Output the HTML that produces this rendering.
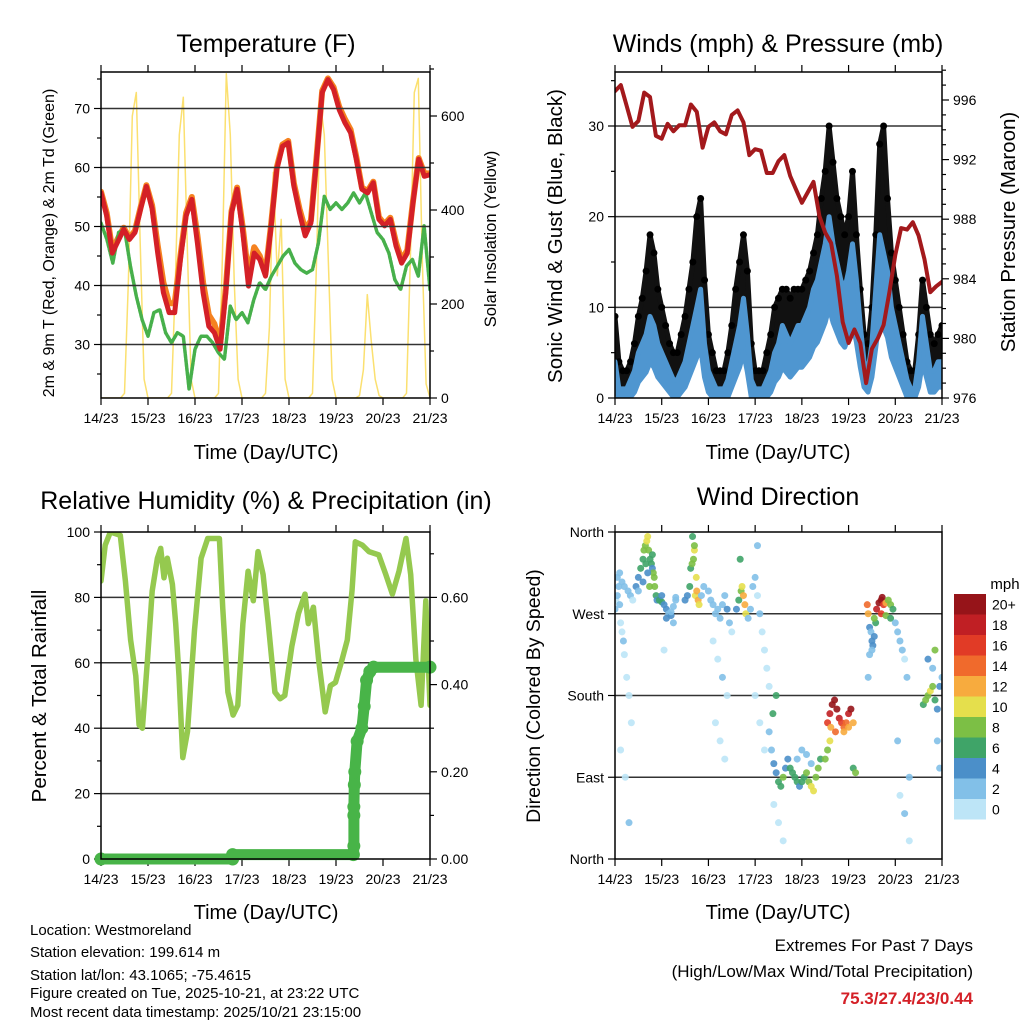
<!DOCTYPE html>
<html><head><meta charset="utf-8">
<style>
html,body{margin:0;padding:0;background:#fff;}
svg{display:block;font-family:"Liberation Sans",Arial,sans-serif;}
</style></head>
<body>
<svg id="chart" width="1024" height="1024" viewBox="0 0 1024 1024" xmlns="http://www.w3.org/2000/svg">
<rect x="0" y="0" width="1024" height="1024" fill="#fff"/>
<text x="266" y="52" font-size="25" text-anchor="middle">Temperature (F)</text>
<text x="778" y="52" font-size="25" text-anchor="middle">Winds (mph) &amp; Pressure (mb)</text>
<text x="266" y="509" font-size="25" text-anchor="middle">Relative Humidity (%) &amp; Precipitation (in)</text>
<text x="778" y="505" font-size="25" text-anchor="middle">Wind Direction</text>
<text x="266" y="459" font-size="20" text-anchor="middle">Time (Day/UTC)</text>
<text x="778" y="459" font-size="20" text-anchor="middle">Time (Day/UTC)</text>
<text x="266" y="919" font-size="20" text-anchor="middle">Time (Day/UTC)</text>
<text x="778" y="919" font-size="20" text-anchor="middle">Time (Day/UTC)</text>
<text transform="translate(54,243) rotate(-90)" font-size="16" text-anchor="middle">2m &amp; 9m T (Red, Orange) &amp; 2m Td (Green)</text>
<text transform="translate(496,239) rotate(-90)" font-size="16.5" text-anchor="middle">Solar Insolation (Yellow)</text>
<text transform="translate(562,236) rotate(-90)" font-size="20.5" text-anchor="middle">Sonic Wind &amp; Gust (Blue, Black)</text>
<text transform="translate(1015,232) rotate(-90)" font-size="20.5" text-anchor="middle">Station Pressure (Maroon)</text>
<text transform="translate(46,696) rotate(-90)" font-size="20.5" text-anchor="middle">Percent &amp; Total Rainfall</text>
<text transform="translate(540,696) rotate(-90)" font-size="19.5" text-anchor="middle">Direction (Colored By Speed)</text>
<g font-size="15">
<text x="30" y="935">Location: Westmoreland</text>
<text x="30" y="957">Station elevation: 199.614 m</text>
<text x="30" y="980">Station lat/lon: 43.1065; -75.4615</text>
<text x="30" y="998">Figure created on Tue, 2025-10-21, at 23:22 UTC</text>
<text x="30" y="1017">Most recent data timestamp: 2025/10/21 23:15:00</text>
</g>
<text x="973" y="951" font-size="17" text-anchor="end">Extremes For Past 7 Days</text>
<text x="973" y="977" font-size="17" text-anchor="end">(High/Low/Max Wind/Total Precipitation)</text>
<text x="973" y="1004" font-size="17" font-weight="bold" fill="#d42027" text-anchor="end">75.3/27.4/23/0.44</text>
<text x="1005" y="589" font-size="15" text-anchor="middle">mph</text>
</svg>
<script>
const dayLabels = ["14/23","15/23","16/23","17/23","18/23","19/23","20/23","21/23"];
const tempRed = [55.7,51.8,45.5,47.5,49.5,47.8,49,53,56.8,53,45.5,38.8,35.4,35.4,44.4,51.8,54.6,47.2,38.8,33.1,32,29.2,38.8,52.3,56.3,49,39.9,45.5,44.4,41.6,50.1,59.7,63.6,64.2,56.8,52.3,48.4,50.6,61.4,72.7,74.9,73.2,69.8,67.6,65.9,61.4,56.3,55.7,57.4,51.2,50.1,51.2,46.7,43.8,45.5,54,61.4,58.5,58.8];
const tempOrange = [55.9,52.3,46,48,49.8,48,49.3,53.3,57,53.6,46.8,40.5,37,37,45,52.3,55,48.5,40.5,35,33.5,30,39.5,52.6,56.6,49.8,41.5,46.5,45,42,50.5,60,63.9,64.5,57.3,53,49.5,51,61.8,73,75.1,73.6,70.3,68.2,66.4,61.8,56.6,56,57.6,51.6,50.4,51.5,47.3,44.3,46,54.3,61.6,59,59];
const dewGreen = [50.6,47.8,43.8,49,49.5,43.3,38.2,34.2,31.4,35.4,35.9,32,30.3,32,31.4,22.4,29.2,31.4,31.4,30.3,28.6,27.5,36.5,34.2,35.4,33.7,37.6,40.5,39.3,41.6,43.3,45,46.1,43.8,42.7,42.1,42.7,47.2,55.1,52.9,54,52.9,54,55.7,54,55.7,52.3,49,47.8,45.5,41,39.3,43.3,44.4,41.6,50.1,39.3];
const solar = [0,0,0,0,0,0,10,250,600,650,330,40, 0,0,0,0,0,0,10,250,560,640,330,40, 0,0,0,0,0,0,10,300,690,560,250,40, 0,0,0,0,0,0,10,150,480,260,380,40, 0,0,0,0,0,0,10,280,630,560,300,40, 0,0,0,0,0,0,5,60,220,120,40,5, 0,0,0,0,0,0,10,300,650,680,300,30, 0];
const windSpeed = [4,1,1,1,2,3,5,6,7,9,8,6, 5,4,3,2,2,3,4,6,8,10,12,6, 3,2,1,1,1,2,4,6,8,11,7,2, 1,1,1,2,3,5,6,8,7,6,7,8, 8,9,10,12,13,15,17,20,17,15,13,12, 14,17,13,8,4,3,6,12,18,16,14,10, 8,6,4,2,1,1,4,9,6,3,3,4, 4];
const windGust = [9,4,3,3,4,6,9,11,14,18,16,12, 10,8,6,5,5,7,9,12,15,20,22,13, 7,5,3,3,3,5,8,12,15,18,14,6, 3,3,3,5,7,10,11,12,12,11,12,12, 12,13,14,16,18,22,25,30,26,22,20,18, 20,25,18,12,7,6,10,18,28,30,22,16, 13,10,7,4,3,3,7,13,10,7,6,7, 8];
const pressure = [996.6,997,995.6,994.2,994.6,996.5,996.2,993.6,993.4,994.4,993.9,994.3,994.3,995.7,995.2,992.8,994.2,994.5,993.9,993.7,995,995.3,994.5,992.3,992.7,992.6,991.1,991.1,991.9,992.3,990.9,990,989.1,989.8,990.5,988.2,987.1,986.4,984.2,981.1,979.7,980.6,979.7,977,979.3,980,980.9,983.1,985.6,987.4,987.3,987.8,986.9,985.3,983.1,983.5,983.8];
const rhDays = [0,.09,.2,.41,.52,.63,.74,.81,.88,.99,1.09,1.2,1.27,1.34,1.41,1.52,1.59,1.66,1.74,1.84,1.99,2.13,2.27,2.52,2.59,2.7,2.81,2.91,3.02,3.13,3.24,3.34,3.45,3.56,3.7,3.81,3.91,4.06,4.2,4.34,4.41,4.52,4.63,4.77,4.88,4.99,5.13,5.24,5.34,5.41,5.56,5.7,5.91,6.06,6.2,6.34,6.49,6.59,6.7,6.81,6.91,7.0];
const rhValues = [85,96,100,99,85,67,56,41,40,61,82,92,95,86,92,84,72,56,31,39,70,92,98,98,77,51,44,47,72,88,79,94,87,72,51,49,50,65,75,81,72,77,61,45,53,54,61,67,82,97,96,94,93,87,81,88,98,87,61,47,79,47];
const precipDays = [0,2.8,2.8,5.37,5.38,5.38,5.38,5.39,5.4,5.45,5.55,5.6,5.65,5.72,5.8,7];
const precipValues = [0,0,0.01,0.01,0.03,0.1,0.12,0.17,0.2,0.27,0.3,0.35,0.41,0.43,0.44,0.44];
const dirDays = [0,0.02,0.05,0.08,0.1,0.12,0.15,0.18,0.2,0.25,0.3,0.35,0.05,0.1,0.15,0.2,0.28,0.33,0.38,0.12,0.22,0.3,
0.45,0.5,0.55,0.6,0.62,0.65,0.68,0.7,0.72,0.75,0.78,0.8,0.82,0.85,0.88,0.9,0.5,0.6,0.7,0.8,0.66,0.74,0.84,
0.95,1.0,1.05,1.1,1.15,1.2,1.25,1.3,1.0,1.1,1.2,1.3,1.05,1.25,
1.5,1.55,1.6,1.62,1.65,1.68,1.7,1.72,1.75,1.78,1.8,1.85,1.9,1.66,1.7,1.74,
2.0,2.05,2.1,2.15,2.2,2.25,2.3,2.35,2.4,2.45,2.5,2.1,2.2,2.3,2.4,2.15,2.25,2.35,
2.6,2.65,2.7,2.72,2.75,2.78,2.8,2.85,2.9,2.68,
2.95,3.0,3.05,3.1,3.15,3.2,3.25,3.3,3.0,3.1,3.2,3.05,
3.3,3.35,3.4,3.45,3.5,3.55,3.6,3.65,3.7,3.4,3.5,3.6,3.38,3.45,
3.75,3.8,3.85,3.9,3.95,4.0,4.05,4.1,4.15,4.2,4.25,4.3,4.35,4.4,3.9,4.0,4.1,4.2,
4.55,4.6,4.65,4.7,4.75,4.8,4.85,4.9,4.95,5.0,5.05,5.1,4.62,4.72,4.9,5.0,4.5,4.55,4.6,5.1,5.15,
5.4,5.42,5.45,5.48,5.5,5.52,5.55,5.58,5.45,5.5,5.55,5.42,
5.6,5.65,5.7,5.72,5.75,5.8,5.85,5.9,5.95,5.7,5.8,5.9,
6.0,6.05,6.1,6.15,6.2,6.25,6.3,6.1,6.2,6.3,6.05,
6.6,6.65,6.7,6.75,6.8,6.85,6.9,6.95,7.0,6.7,6.8,6.9,6.95,6.85];
const dirDegrees = [275,285,290,300,280,260,250,240,225,200,180,150,310,315,305,300,295,290,285,120,90,40,
300,310,320,330,340,345,350,355,340,330,325,320,315,300,290,285,295,305,315,335,325,300,310,
285,283,280,275,270,268,278,285,290,265,272,288,230,260,
285,290,300,320,325,330,340,290,295,285,280,290,300,355,345,310,
295,285,280,270,275,265,280,290,275,260,250,240,220,200,180,150,130,110,
275,285,295,300,290,280,270,265,275,330,
300,310,290,270,250,230,210,190,180,150,120,345,
140,120,105,95,85,80,90,100,110,60,40,20,160,180,
100,95,90,85,80,85,90,95,85,80,75,90,100,110,110,120,115,105,
150,160,170,175,165,155,150,145,150,160,165,150,145,140,140,145,110,120,130,100,95,
280,270,255,250,240,235,245,260,225,230,265,200,
275,282,285,288,280,282,285,280,275,270,268,265,
260,250,240,230,220,200,90,70,50,20,130,
170,175,180,185,190,175,165,190,200,220,210,130,100,230];
const dirSpeeds = [2,1,2,3,2,1,1,2,1,1,1,1,2,3,2,2,3,2,1,1,1,2,
4,5,6,7,8,9,10,10,8,7,6,5,8,9,6,4,3,4,5,6,7,8,9,
6,7,5,4,3,4,3,2,5,4,3,2,1,2,
4,5,6,7,8,9,10,11,12,12,11,3,2,7,8,10,
2,3,2,3,2,2,3,2,4,2,1,1,1,2,1,1,1,1,
5,6,8,10,12,12,11,3,2,6,
2,2,1,2,1,1,1,1,1,1,1,2,
2,3,4,5,6,7,8,5,4,1,1,1,7,7,
6,7,7,6,5,6,7,8,9,10,10,9,8,7,3,2,2,3,
16,18,20,22,21,19,16,14,15,18,20,12,12,14,13,12,8,9,10,7,8,
14,12,4,3,4,5,4,6,3,2,8,2,
18,20,22,20,16,12,9,8,7,17,8,6,
3,2,3,2,1,2,2,1,2,1,2,
7,8,9,10,8,6,5,4,3,5,3,2,2,8];
const speedColors = ["#bde5f7","#82c0e8","#4b8fc9","#3fa468","#7cbf45","#e5df4c","#f7ab3e","#f06a2c","#e13b26","#c01f24","#961419"];
const speedLabels = ["0","2","4","6","8","10","12","14","16","18","20+"];

const NS = "http://www.w3.org/2000/svg";
const svg = document.getElementById("chart");
function mk(tag, attrs, name, parent) {
  const el = document.createElementNS(NS, tag);
  for (const k in attrs) el.setAttribute(k, attrs[k]);
  
  
  (parent || svg).appendChild(el);
  return el;
}
function lin(d0, d1, r0, r1) { return v => r0 + (v - d0) * (r1 - r0) / (d1 - d0); }

const P1 = {x0:101,x1:430,y0:72,y1:398}, P2 = {x0:615,x1:942,y0:72,y1:398};
const P3 = {x0:101,x1:430,y0:532,y1:859}, P4 = {x0:615,x1:942,y0:532,y1:859};

const tY = lin(30,70,344.5,108.5), sY = lin(0,600,398,116);
const wY = lin(0,30,398,126), pY = lin(976,996,398,100);
const rY = lin(0,100,859,532), qY = lin(0,0.6,859,597.4);
const dY = lin(0,360,859,532);

function frame(P, pre) {
  const g = mk('g', {}, pre + '-axes');
  const xs = lin(0,7,P.x0,P.x1);
  for (let i = 0; i < 8; i++) {
    const x = xs(i);
    mk('line', {x1:x,x2:x,y1:P.y1,y2:P.y1+7,stroke:'#000','stroke-width':1.2}, pre + '-x-tick', g);
    mk('line', {x1:x,x2:x,y1:P.y0,y2:P.y0-7,stroke:'#000','stroke-width':1.2}, pre + '-x-tick-top', g);
    const t = mk('text', {x:x,y:P.y1+25,'font-size':14,'text-anchor':'middle'}, pre + '-x-tick-label', g);
    t.textContent = dayLabels[i];
  }
  return g;
}
function hgrid(P, yv, pre) {
  mk('line', {x1:P.x0,x2:P.x1,y1:yv,y2:yv,stroke:'#333','stroke-width':1.5}, pre, svg);
}
function yTick(P, side, y, label, pre, major) {
  const x = side === 'l' ? P.x0 : P.x1;
  const len = major ? 7 : 4;
  mk('line', {x1:x,x2:side==='l'?x-len:x+len,y1:y,y2:y,stroke:'#000','stroke-width':1.2}, pre + '-tick', svg);
  if (label !== null) {
    const t = mk('text', {x: side==='l'? x-11 : x+11, y:y+5,'font-size':14,'text-anchor': side==='l'?'end':'start'}, pre + '-tick-label', svg);
    t.textContent = label;
  }
}
function poly(pts, attrs, name) {
  return mk('polyline', Object.assign({points: pts.map(p => p[0].toFixed(1)+','+p[1].toFixed(1)).join(' '), fill:'none','stroke-linejoin':'round','stroke-linecap':'round'}, attrs), name);
}
function clip(P, id) {
  const defs = mk('clipPath', {id:id}, id + '-clip');
  mk('rect', {x:P.x0,y:P.y0,width:P.x1-P.x0,height:P.y1-P.y0}, id + '-clip-rect', defs);
}

/* ---------- Panel 1: temperature ---------- */
clip(P1,'c1'); clip(P2,'c2'); clip(P3,'c3'); clip(P4,'c4');
frame(P1,'temp');
for (let v = 25; v <= 75; v += 5) yTick(P1,'l',tY(v), v%10===0? String(v): null,'temp-y', v%10===0);
for (let v = 0; v <= 700; v += 100) yTick(P1,'r',sY(v), v%200===0? String(v): null,'solar-y', v%200===0);
(function(){
  const xs = lin(0,7,P1.x0,P1.x1);
  const sol = poly(solar.map((v,i)=>[xs(i*7/(solar.length-1)), sY(v)]), {stroke:'#fbe070','stroke-width':1.5}, 'solar-line');
  sol.setAttribute('clip-path','url(#c1)');
  const n1 = tempOrange.length;
  const o = poly(tempOrange.map((v,i)=>[xs(i*7/(n1-1)), tY(v)]), {stroke:'#f58220','stroke-width':6}, 'temp-9m-line');
  o.setAttribute('clip-path','url(#c1)');
  const g = dewGreen.length;
  const gl = poly(dewGreen.map((v,i)=>[xs(i*7/(g-1)), tY(v)]), {stroke:'#47b04b','stroke-width':3.5,'stroke-dasharray':'3 1.5'}, 'dewpoint-line');
  gl.setAttribute('clip-path','url(#c1)');
  const n = tempRed.length;
  const r = poly(tempRed.map((v,i)=>[xs(i*7/(n-1)), tY(v)]), {stroke:'#d42027','stroke-width':5}, 'temp-2m-line');
  r.setAttribute('clip-path','url(#c1)');
})();
[30,40,50,60,70].forEach(v => hgrid(P1, tY(v), 'temp-gridline'));
mk('rect',{x:P1.x0,y:P1.y0,width:P1.x1-P1.x0,height:P1.y1-P1.y0,fill:'none',stroke:'#000','stroke-width':1.5},'temp-plot-frame');

/* ---------- Panel 2: winds ---------- */
frame(P2,'wind');
for (let v = 0; v <= 35; v += 5) yTick(P2,'l',wY(v), v%10===0? String(v): null,'wind-y', v%10===0);
for (let v = 976; v <= 998; v += 1) yTick(P2,'r',pY(v), v%4===0? String(v): null,'pressure-y', v%4===0);
[10,20,30].forEach(v => hgrid(P2, wY(v), 'wind-gridline'));
(function(){
  const xs = lin(0,7,P2.x0,P2.x1);
  const n = windGust.length;
  const top = windGust.map((v,i)=>[xs(i*7/(n-1)), wY(v)]);
  const bot = windSpeed.map((v,i)=>[xs(i*7/(n-1)), wY(v)]).reverse();
  const band = mk('polygon',{points: top.concat(bot).map(p=>p[0].toFixed(1)+','+p[1].toFixed(1)).join(' '), fill:'#111', stroke:'#111','stroke-width':5,'stroke-linejoin':'round'},'gust-band');
  band.setAttribute('clip-path','url(#c2)');
  top.forEach((p,i) => {
    const c = mk('circle',{cx:p[0],cy:p[1],r:3.5,fill:'#000'},'gust-point');
    c.setAttribute('clip-path','url(#c2)');
  });
  const m = windSpeed.length;
  const wtop = windSpeed.map((v,i)=>[xs(i*7/(m-1)), wY(v)]);
  const wbot = windSpeed.map((v,i)=>[xs(i*7/(m-1)), wY(Math.max(0, v*0.55 - 1))]).reverse();
  const wb = mk('polygon',{points: wtop.concat(wbot).map(p=>p[0].toFixed(1)+','+p[1].toFixed(1)).join(' '), fill:'#4f96d0', stroke:'#4f96d0','stroke-width':5,'stroke-linejoin':'round'},'wind-speed-band');
  wb.setAttribute('clip-path','url(#c2)');
  const k = pressure.length;
  const pl = poly(pressure.map((v,i)=>[xs(i*7/(k-1)), pY(v)]), {stroke:'#a3191c','stroke-width':4}, 'pressure-line');
  pl.setAttribute('clip-path','url(#c2)');
})();
mk('rect',{x:P2.x0,y:P2.y0,width:P2.x1-P2.x0,height:P2.y1-P2.y0,fill:'none',stroke:'#000','stroke-width':1.5},'wind-plot-frame');

/* ---------- Panel 3: RH & precip ---------- */
frame(P3,'rh');
for (let v = 0; v <= 100; v += 10) yTick(P3,'l',rY(v), v%20===0? String(v): null,'rh-y', v%20===0);
for (let v = 0; v <= 0.75; v += 0.1) yTick(P3,'r',qY(v), Math.round(v*10)%2===0? v.toFixed(2): null,'precip-y', Math.round(v*10)%2===0);
[20,40,60,80].forEach(v => hgrid(P3, rY(v), 'rh-gridline'));
(function(){
  const xs = lin(0,7,P3.x0,P3.x1);
  const rl = poly(rhDays.map((d,i)=>[xs(d), rY(rhValues[i])]), {stroke:'#95c94f','stroke-width':5.5}, 'rh-line');
  rl.setAttribute('clip-path','url(#c3)');
  poly(precipDays.map((d,i)=>[xs(d), qY(precipValues[i])]), {stroke:'#48b448','stroke-width':11}, 'precip-line');
  precipDays.forEach((d,i) => {
    mk('circle',{cx:xs(d),cy:qY(precipValues[i]),r:6.5,fill:'#48b448'},'precip-point');
  });
})();
mk('rect',{x:P3.x0,y:P3.y0,width:P3.x1-P3.x0,height:P3.y1-P3.y0,fill:'none',stroke:'#000','stroke-width':1.5},'rh-plot-frame');

/* ---------- Panel 4: wind direction ---------- */
frame(P4,'dir');
const dirNames = ["North","East","South","West","North"];
[0,90,180,270,360].forEach((v,i) => yTick(P4,'l',dY(v), dirNames[i], 'dir-y', true));
[90,180,270].forEach(v => hgrid(P4, dY(v), 'dir-gridline'));
(function(){
  const xs = lin(0,7,P4.x0,P4.x1);
  dirDays.forEach((d,i) => {
    const idx = Math.min(10, Math.floor(dirSpeeds[i]/2));
    const c = mk('circle',{cx:xs(d),cy:dY(dirDegrees[i]),r:3.5,fill:speedColors[idx],opacity:0.9},'direction-point');
    c.setAttribute('clip-path','url(#c4)');
  });
})();
mk('rect',{x:P4.x0,y:P4.y0,width:P4.x1-P4.x0,height:P4.y1-P4.y0,fill:'none',stroke:'#000','stroke-width':1.5},'dir-plot-frame');

/* colorbar */
speedColors.forEach((c,i) => {
  const y = 799 - i*20.5;
  mk('rect',{x:954,y:y,width:32,height:20.5,fill:c},'colorbar-box');
  const t = mk('text',{x:992,y:y+15.5,'font-size':14},'colorbar-label');
  t.textContent = speedLabels[i];
});
</script>
</body></html>
